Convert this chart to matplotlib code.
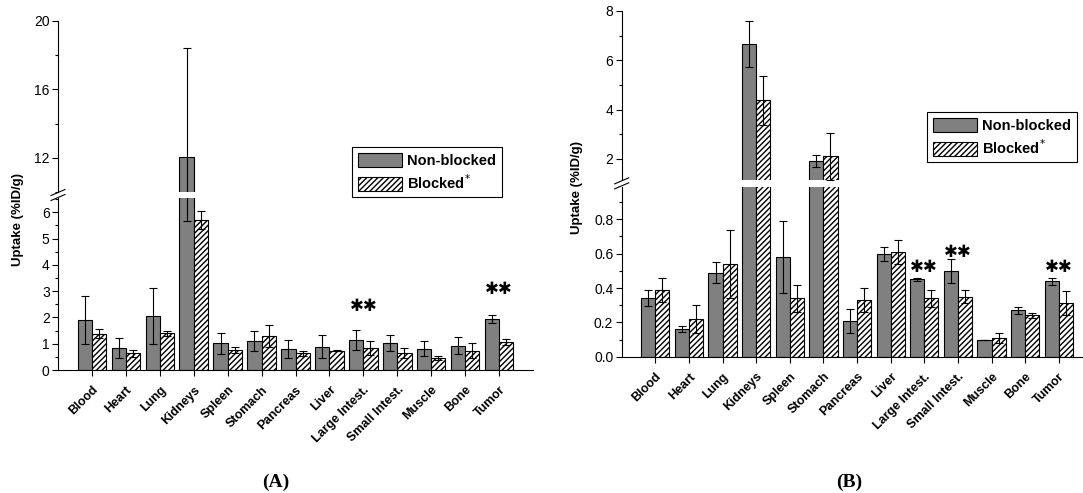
import numpy as np
import matplotlib
matplotlib.use("Agg")
import matplotlib.pyplot as plt
from matplotlib.ticker import MultipleLocator

plt.rcParams['font.family'] = ['Liberation Sans', 'DejaVu Sans']

# data
organs = ['Blood', 'Heart', 'Lung', 'Kidneys', 'Spleen', 'Stomach', 'Pancreas',
          'Liver', 'Large Intest.', 'Small Intest.', 'Muscle', 'Bone', 'Tumor']

# panel A
a_nb = [1.90, 0.85, 2.05, 12.05, 1.01, 1.11, 0.80, 0.89, 1.15, 1.04, 0.81, 0.92, 1.94]
a_nb_err = [0.90, 0.38, 1.05, 6.40, 0.40, 0.37, 0.34, 0.43, 0.38, 0.30, 0.29, 0.33, 0.17]
a_bl = [1.38, 0.63, 1.39, 5.70, 0.76, 1.29, 0.63, 0.73, 0.83, 0.65, 0.46, 0.74, 1.06]
a_bl_err = [0.18, 0.12, 0.10, 0.35, 0.12, 0.42, 0.10, 0.02, 0.27, 0.19, 0.07, 0.27, 0.11]
a_stars = {'Large Intest.': 2.42, 'Tumor': 3.07}

# panel B
b_nb = [0.344, 0.161, 0.49, 6.66, 0.58, 1.90, 0.21, 0.60, 0.45, 0.50, 0.10, 0.27, 0.44]
b_nb_err = [0.047, 0.02, 0.06, 0.95, 0.21, 0.24, 0.07, 0.04, 0.01, 0.07, 0.0, 0.02, 0.02]
b_bl = [0.39, 0.22, 0.54, 4.38, 0.34, 2.10, 0.33, 0.61, 0.34, 0.35, 0.11, 0.24, 0.31]
b_bl_err = [0.07, 0.08, 0.20, 1.00, 0.08, 0.95, 0.07, 0.07, 0.05, 0.04, 0.03, 0.015, 0.07]
b_stars = {'Large Intest.': 0.52, 'Small Intest.': 0.61, 'Tumor': 0.52}

W = 1083
H = 493
fig = plt.figure(figsize=(W / 100, H / 100), dpi=100)


def fx(px):
    return px / W


def fy(py):
    return 1 - py / H


GRAY = '#808080'
bw = 0.42
x = np.arange(len(organs))


def draw_bars(ax, nb, nb_err, bl, bl_err):
    ax.bar(x - bw / 2, nb, bw, color=GRAY, edgecolor='black', linewidth=0.8,
           label='Non-blocked', zorder=2)
    ax.bar(x + bw / 2, bl, bw, color='white', edgecolor='black', linewidth=0.8,
           hatch='//////', label='Blocked$^{*}$', zorder=2)
    ax.errorbar(x - bw / 2, nb, yerr=nb_err, fmt='none', ecolor='black',
                elinewidth=0.8, capsize=3, capthick=0.8, zorder=3)
    ax.errorbar(x + bw / 2, bl, yerr=bl_err, fmt='none', ecolor='black',
                elinewidth=0.8, capsize=3, capthick=0.8, zorder=3)


def panel(left, right, low_box, up_box, xmax, low_lim, up_lim,
          low_major, low_minor, up_major, up_minor, low_fmt,
          nb, nb_err, bl, bl_err, stars, leg_anchor, ylabel_pos, letter_pos, letter):
    ax_lo = fig.add_axes([fx(left), fy(low_box[1]), fx(right - left),
                          fy(low_box[0]) - fy(low_box[1])])
    ax_up = fig.add_axes([fx(left), fy(up_box[1]), fx(right - left),
                          fy(up_box[0]) - fy(up_box[1])], sharex=ax_lo)
    for ax in (ax_lo, ax_up):
        draw_bars(ax, nb, nb_err, bl, bl_err)
        ax.set_xlim(-1, xmax)
        ax.spines['top'].set_visible(False)
        ax.spines['right'].set_visible(False)
        ax.tick_params(axis='y', direction='out', length=4, width=0.8,
                       labelsize=10, pad=2)
        ax.tick_params(axis='y', which='minor', direction='out', length=2.5, width=0.8)
        ax.spines['left'].set_linewidth(0.8)
        ax.patch.set_alpha(0)
    ax_lo.set_ylim(*low_lim)
    ax_up.set_ylim(*up_lim)
    ax_lo.yaxis.set_major_locator(MultipleLocator(low_major))
    ax_lo.yaxis.set_minor_locator(MultipleLocator(low_minor))
    ax_lo.yaxis.set_major_formatter(low_fmt)
    ax_up.yaxis.set_major_locator(MultipleLocator(up_major))
    ax_up.yaxis.set_minor_locator(MultipleLocator(up_minor))
    ax_up.spines['bottom'].set_visible(False)
    ax_up.tick_params(axis='x', bottom=False, labelbottom=False)
    ax_lo.spines['bottom'].set_linewidth(0.8)
    ax_lo.set_xticks(x)
    ax_lo.set_xticklabels(organs, rotation=45, ha='right', rotation_mode='anchor',
                          fontsize=9, fontweight='bold')
    ax_lo.tick_params(axis='x', direction='out', length=4, width=0.8, pad=6)

    # break marks on the y axis
    gap_mid = (up_box[1] + low_box[0]) / 2
    for dy in (-2.5, 2.5):
        yc = gap_mid + dy
        fig.add_artist(plt.Line2D([fx(left - 7), fx(left + 7)], [fy(yc + 3), fy(yc - 3)],
                                  color='black', lw=0.8))

    for name, yv in stars.items():
        ax_lo.text(organs.index(name), yv, '\u2731\u2731', ha='center', va='center',
                   fontsize=12, family='DejaVu Sans')

    leg = ax_up.legend(loc='upper left', bbox_to_anchor=leg_anchor,
                       bbox_transform=fig.transFigure, frameon=True, fancybox=False,
                       edgecolor='black', framealpha=1, borderpad=0.4,
                       borderaxespad=0,
                       handlelength=3.0, handleheight=1.1, handletextpad=0.4,
                       labelspacing=0.35, prop={'weight': 'bold', 'size': 10.5})
    leg.get_frame().set_linewidth(0.8)

    fig.text(fx(ylabel_pos[0]), fy(ylabel_pos[1]), 'Uptake (%ID/g)', rotation=90,
             ha='center', va='center', fontsize=9.5, fontweight='bold')
    fig.text(fx(letter_pos[0]), fy(letter_pos[1]), letter, ha='center', va='center',
             fontsize=14, fontweight='bold', family='Liberation Serif')


panel(58, 533, (198, 370), (21, 192), 13, (0, 6.54), (10, 20),
      1, 0.5, 4, 2, '{x:.0f}',
      a_nb, a_nb_err, a_bl, a_bl_err, a_stars,
      (fx(352), fy(147)), (18, 220), (276, 482), '(A)')

panel(621.7, 1083, (186.7, 356.7), (11, 180), 12.72, (0, 0.99), (1.14, 8),
      0.2, 0.1, 2, 1, '{x:.1f}',
      b_nb, b_nb_err, b_bl, b_bl_err, b_stars,
      (fx(927), fy(112)), (577, 187), (849, 482), '(B)')

fig.savefig('out.png', dpi=100, facecolor='white')
